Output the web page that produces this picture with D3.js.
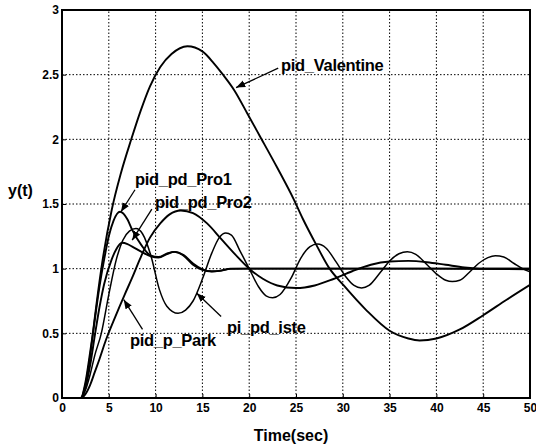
<!DOCTYPE html>
<html>
<head>
<meta charset="utf-8">
<script src="https://cdn.jsdelivr.net/npm/d3@7"></script>
<style>
  html, body { margin: 0; padding: 0; background: #fff; }
  svg { display: block; }
  text { font-family: "Liberation Sans", Arial, sans-serif; font-weight: bold; fill: #000; }
</style>
</head>
<body>
<svg id="chart" width="536" height="448"></svg>
<script>
// ---- data ----
const xTicks = [0, 5, 10, 15, 20, 25, 30, 35, 40, 45, 50];
const yTicks = [0, 0.5, 1, 1.5, 2, 2.5, 3];
const yTickLabels = ["0", "0.5", "1", "1.5", "2", "2.5", "3"];

const valentine = [[0,0],[2,0],[2.5,0.1],[3,0.32],[3.5,0.62],[4.2,1.0],[5.3,1.45],[6.3,1.74],[7.4,2.0],[8.4,2.22],[9.4,2.41],[10.5,2.56],[11.7,2.66],[13.4,2.72],[15,2.68],[16.2,2.59],[17.2,2.5],[18.4,2.38],[19.8,2.2],[21.1,2.03],[23,1.78],[24.8,1.53],[25.7,1.39],[27.2,1.18],[28.5,1.01],[30.1,0.87],[32.5,0.68],[35,0.52],[37,0.46],[38.2,0.445],[40,0.46],[42.5,0.53],[45,0.64],[47.5,0.76],[50,0.875]];

const pro1 = [[0,0],[2,0],[2.5,0.12],[3,0.35],[3.4,0.55],[4,0.86],[4.5,1.07],[5,1.25],[5.5,1.37],[6.2,1.44],[7,1.38],[7.5,1.3],[8.5,1.18],[9.5,1.1],[10.3,1.09],[11.3,1.12],[12,1.13],[13,1.1],[14,1.03],[15,0.99],[16,0.977],[17,0.985],[18,0.998],[20,1.0],[30,1.0],[40,1.0],[50,1.0]];

const pro2 = [[0,0],[2,0],[2.5,0.08],[3,0.25],[3.5,0.48],[4,0.7],[4.5,0.88],[5.3,1.07],[5.8,1.15],[6.4,1.2],[7,1.19],[7.5,1.17],[8.5,1.13],[9.5,1.095],[10.3,1.085],[11.3,1.115],[12,1.13],[13,1.105],[14,1.04],[15,0.995],[16,0.98],[17,0.985],[18,1.0],[20,1.0],[30,1.0],[40,1.0],[50,0.995]];

const iste = [[0,0],[2,0],[2.5,0.06],[3,0.18],[3.5,0.33],[4.2,0.5],[5,0.8],[5.8,1.07],[6.5,1.22],[7.2,1.29],[7.9,1.31],[8.6,1.27],[9.5,1.1],[10.4,0.84],[11.2,0.71],[12.4,0.655],[13.2,0.68],[14,0.75],[15,0.92],[16,1.12],[16.8,1.24],[17.5,1.275],[18.1,1.26],[19,1.14],[20,1.0],[21,0.86],[21.8,0.79],[22.5,0.775],[23.3,0.8],[24.5,0.93],[25.5,1.08],[26.5,1.17],[27.3,1.19],[28.2,1.16],[29.3,1.05],[30.3,0.94],[31.2,0.87],[32,0.85],[32.8,0.87],[34,0.97],[35,1.06],[36,1.115],[36.9,1.13],[37.8,1.11],[39,1.03],[40,0.96],[41,0.91],[41.7,0.9],[42.5,0.91],[43.5,0.97],[44.5,1.04],[45.5,1.085],[46.3,1.1],[47.2,1.09],[48.3,1.04],[49.2,1.0],[50,0.975]];

const park = [[0,0],[2,0],[2.5,0.03],[3,0.1],[3.5,0.2],[4,0.3],[4.7,0.45],[5.7,0.63],[6.7,0.8],[7.5,0.93],[8.3,1.07],[9.4,1.24],[10.5,1.35],[11.5,1.42],[12.7,1.45],[14,1.43],[15.5,1.35],[17,1.23],[18.5,1.11],[20,1.0],[21.5,0.92],[23,0.87],[25,0.85],[27,0.87],[29,0.92],[31,0.98],[33,1.03],[35,1.055],[37,1.06],[39,1.05],[41,1.03],[43,1.01],[45,1.0],[50,1.0]];

const seriesNames = ["pid_Valentine", "pid_pd_Pro1", "pid_pd_Pro2", "pi_pd_iste", "pid_p_Park"];
const seriesData = [valentine, pro1, pro2, iste, park];

// annotation labels: [text, label x, label baseline y, arrow tail (t,y), arrow head (t,y)]
const annotations = [
  ["pid_Valentine", 281, 71, [23.1, 2.55], [18.6, 2.40]],
  ["pid_pd_Pro1", 135, 185, [7.8, 1.61], [6.3, 1.44]],
  ["pid_pd_Pro2", 155, 208, [9.6, 1.46], [7.5, 1.22]],
  ["pid_p_Park", 130, 346, [8.6, 0.53], [6.6, 0.76]],
  ["pi_pd_iste", 227, 333, [17.0, 0.63], [14.4, 0.81]]
];

// ---- layout ----
const W = 536, H = 448;
const margin = { left: 62, right: 6, top: 10, bottom: 50 };
const svg = d3.select("#chart");
const x = d3.scaleLinear().domain([0, 50]).range([margin.left, W - margin.right]);
const y = d3.scaleLinear().domain([0, 3]).range([H - margin.bottom, margin.top]);

// grid
const grid = svg.append("g");
grid.selectAll(".gx").data(xTicks.slice(1, -1)).enter().append("line")
  .attr("x1", d => x(d)).attr("x2", d => x(d))
  .attr("y1", y(0)).attr("y2", y(3))
  .attr("stroke", "#000").attr("stroke-width", 1).attr("stroke-dasharray", "1.5,2");
grid.selectAll(".gy").data(yTicks.slice(1, -1)).enter().append("line")
  .attr("x1", x(0)).attr("x2", x(50))
  .attr("y1", d => y(d)).attr("y2", d => y(d))
  .attr("stroke", "#000").attr("stroke-width", 1).attr("stroke-dasharray", "1.5,2");

// clip
svg.append("clipPath").attr("id", "clip").append("rect")
  .attr("x", x(0)).attr("y", y(3)).attr("width", x(50) - x(0)).attr("height", y(0) - y(3));

const line = d3.line().x(d => x(d[0])).y(d => y(d[1])).curve(d3.curveMonotoneX);
svg.append("g").attr("clip-path", "url(#clip)")
  .selectAll("path").data(seriesData).enter().append("path")
  .attr("d", line)
  .attr("fill", "none").attr("stroke", "#000")
  .attr("stroke-width", (d, i) => i === 3 ? 1.5 : 1.9)
  .attr("stroke-linejoin", "round");

// axes (MATLAB-style box with inward ticks)
const xAxisB = d3.axisBottom(x).tickValues(xTicks).tickSize(-4).tickPadding(7).tickFormat(d3.format("d"));
const yAxisL = d3.axisLeft(y).tickValues(yTicks).tickSize(-4).tickPadding(3).tickFormat((d, i) => yTickLabels[i]);
const gx = svg.append("g").attr("transform", `translate(0,${y(0)})`).call(xAxisB);
const gy = svg.append("g").attr("transform", `translate(${x(0)},0)`).call(yAxisL);
[gx, gy].forEach(g => {
  g.select(".domain").remove();
  g.selectAll(".tick line").attr("stroke", "#000").attr("stroke-width", 1);
  g.selectAll("text").style("font-size", "12px").style("font-weight", "bold").attr("fill", "#000");
});
gx.selectAll("text").attr("dy", "0.6em");

svg.append("rect")
  .attr("x", x(0)).attr("y", y(3)).attr("width", x(50) - x(0)).attr("height", y(0) - y(3))
  .attr("fill", "none").attr("stroke", "#000").attr("stroke-width", 2);

// axis titles
svg.append("text").attr("x", (x(0) + x(50)) / 2 - 5).attr("y", 441)
  .attr("text-anchor", "middle").style("font-size", "16px").text("Time(sec)");
svg.append("text").attr("x", 8).attr("y", 196)
  .style("font-size", "16px").text("y(t)");

// annotations with arrows
svg.append("defs").append("marker")
  .attr("id", "arrow").attr("viewBox", "0 0 10 10").attr("refX", 10).attr("refY", 5)
  .attr("markerWidth", 7).attr("markerHeight", 7).attr("orient", "auto")
  .append("path").attr("d", "M0,1 L10,5 L0,9 Z").attr("fill", "#000");

const ann = svg.append("g");
annotations.forEach(a => {
  ann.append("line")
    .attr("x1", x(a[3][0])).attr("y1", y(a[3][1]))
    .attr("x2", x(a[4][0])).attr("y2", y(a[4][1]))
    .attr("stroke", "#000").attr("stroke-width", 1.3)
    .attr("marker-end", "url(#arrow)");
  ann.append("text").attr("x", a[1]).attr("y", a[2])
    .style("font-size", "16.5px").style("letter-spacing", "-0.3px").text(a[0]);
});
</script>
</body>
</html>
